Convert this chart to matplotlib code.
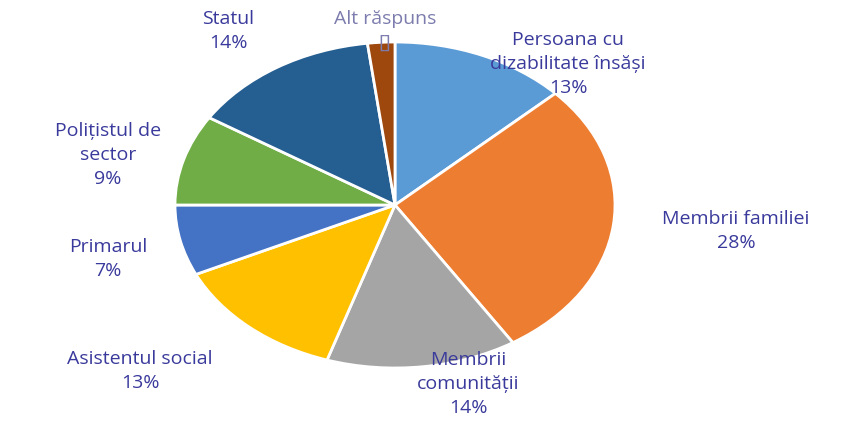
# coding: utf-8

"""
Cine ar trebui să ajute persoana cu dizabilitate - diagrama circulara
"""

import matplotlib
matplotlib.use("Agg")
import matplotlib.pyplot as plt

# Date
labels = ["Persoana cu\ndizabilitate însăși", "Membrii familiei", "Membrii\ncomunității",
          "Asistentul social", "Primarul", "Polițistul de\nsector", "Statul", "Alt răspuns"]
values = [13, 28, 14, 13, 7, 9, 14, 2]
pct_text = ["13%", "28%", "14%", "13%", "7%", "9%", "14%", "[]"]
colors = ["#5B9BD5", "#ED7D31", "#A5A5A5", "#FFC000", "#4472C4", "#70AD47", "#255E91", "#9E480E"]

# pozitia etichetelor in pixeli (centru), imaginea e 854x421
label_px = [(568, 64), (736, 231), (468, 384), (140, 371),
            (108, 259), (108, 155), (228, 31), (385, 31)]

W, H = 854, 421
cx, cy = 395, 205   # centrul elipsei
rx, ry = 220, 163   # razele in pixeli


def to_data(px, py):
	return (px - cx) / rx, (cy - py) / ry


def main():
	plt.rcParams["font.family"] = ["Open Sans", "DejaVu Sans"]
	fig = plt.figure(figsize=(W / 100, H / 100), dpi=100)
	ax = fig.add_axes([0, 0, 1, 1])

	ax.pie(values, colors=colors, startangle=90, counterclock=False,
		wedgeprops=dict(edgecolor="white", linewidth=2))

	# elipsa: aspect liber si limite fixe
	ax.set_aspect("auto")
	ax.set_xlim(-cx / rx, (W - cx) / rx)
	ax.set_ylim((cy - H) / ry, cy / ry)
	ax.axis("off")

	for i, lab in enumerate(labels):
		x, y = to_data(*label_px[i])
		col = "#3A3A9C" if i < 7 else "#7C7CAE"
		ax.text(x, y, lab + "\n" + pct_text[i], ha="center", va="center",
			fontsize=14, color=col, linespacing=1.4)

	fig.savefig("out.png", dpi=100, facecolor="white")


if __name__ == "__main__":
	main()
